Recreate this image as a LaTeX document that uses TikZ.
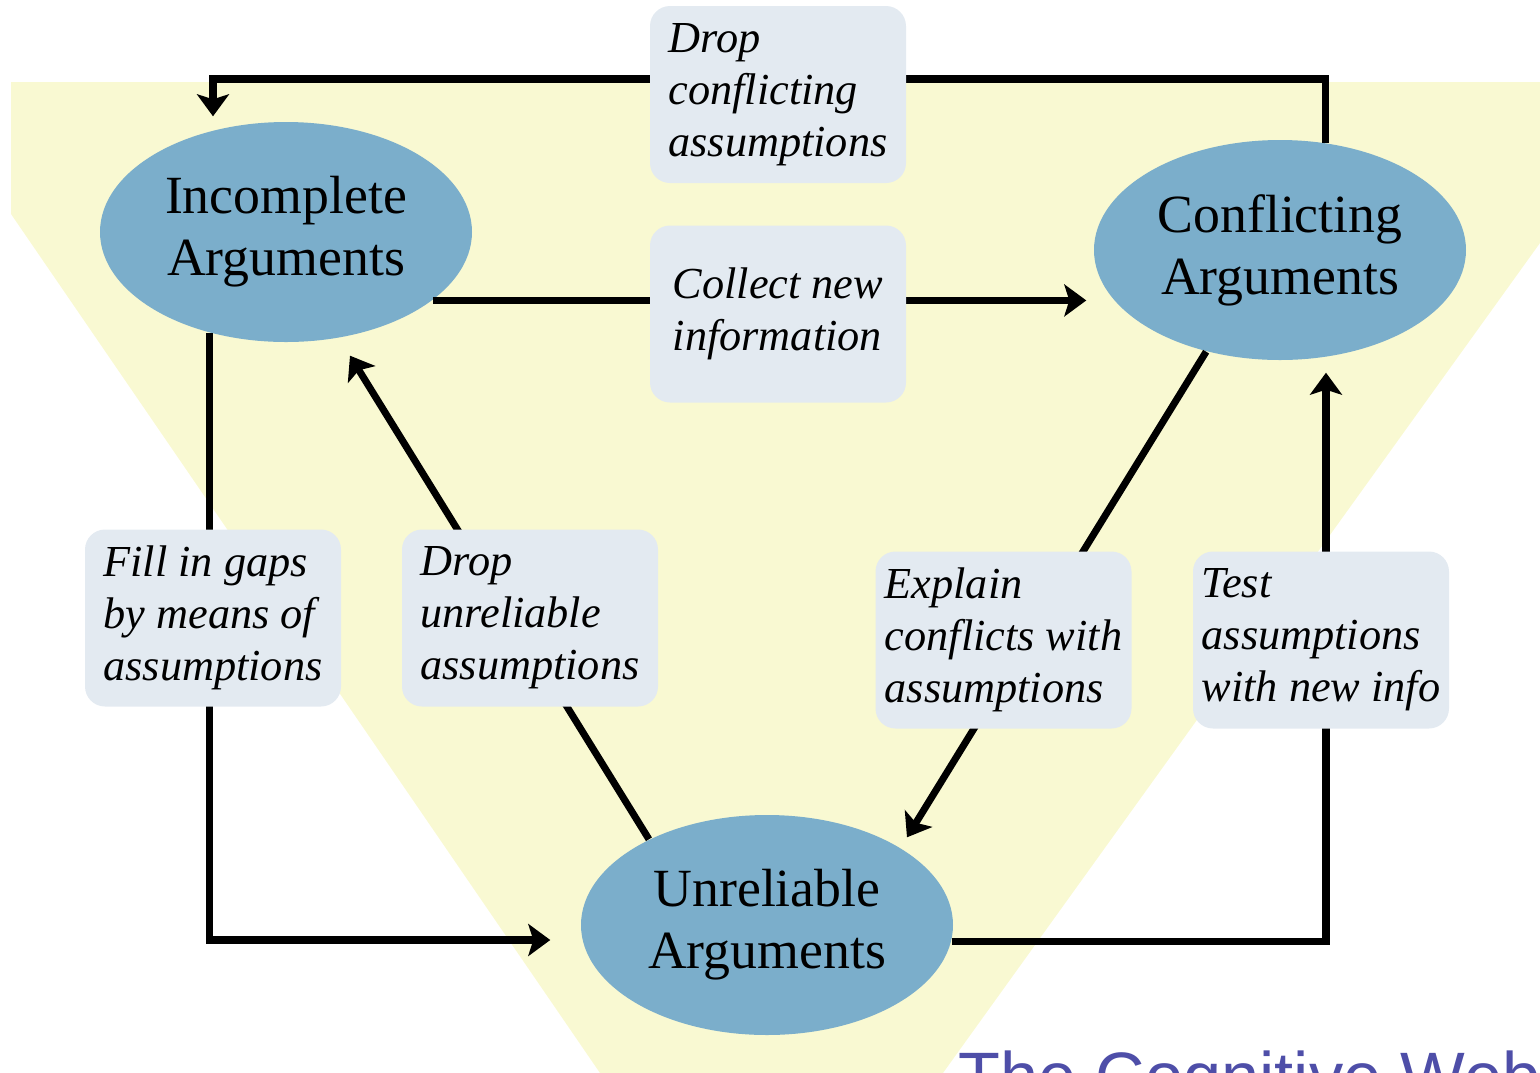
\documentclass[tikz,border=0pt]{standalone}
\usepackage{fontspec}
\setmainfont{Liberation Serif}
\newfontfamily\websans{Liberation Sans}
\usetikzlibrary{shapes.geometric,arrows.meta}

\definecolor{funnel}{RGB}{249,249,210}
\definecolor{argblue}{RGB}{123,174,203}
\definecolor{boxgray}{RGB}{227,234,241}
\definecolor{webblue}{RGB}{78,78,168}

\tikzset{
  argument/.style={ellipse, fill=argblue, minimum width=3.72cm, minimum height=2.2cm,
    inner sep=0pt, align=center, font=\fontsize{15.3}{17.6}\selectfont},
  action/.style={rectangle, rounded corners=0.2cm, fill=boxgray, minimum width=2.56cm,
    minimum height=1.77cm, inner sep=0pt, align=left, font=\fontsize{12.6}{14.8}\selectfont\itshape},
  flow/.style={line width=2pt, -{Stealth[length=0.22cm,width=0.32cm,inset=0.05cm]}}
}

\begin{document}
\begin{tikzpicture}
      \useasboundingbox (0,0) rectangle (15.4,-10.73);
      \fill[funnel] (0.11,-0.82) -- (15.4,-0.82) -- (15.4,-2.43) -- (9.43,-10.73)
                    -- (6.0,-10.73) -- (0.11,-2.14) -- cycle;

      \node[argument] (inc)  at (2.86,-2.32) {Incomplete\\Arguments};
      \node[argument] (conf) at (12.80,-2.50) {Conflicting\\Arguments};
      \node[argument] (unr)  at (7.67,-9.25) {Unreliable\\Arguments};

      \coordinate (loopTL) at (2.13,-0.79);

      \draw[flow, shorten >=0.05cm] (conf.67) |- (loopTL) -- (loopTL |- inc.north);
      \draw[flow, shorten >=0.07cm] (inc.-25) -- (inc.-25 -| conf.west);
      \draw[flow] (inc.233) |- ([xshift=-0.3cm,yshift=-0.15cm]unr.west);
      \draw[flow] (unr.144) -- ([xshift=0.64cm,yshift=-0.13cm]inc.south);
      \draw[flow] (conf.234) -- ([xshift=1.40cm,yshift=-0.23cm]unr.north);
      \draw[flow] (unr.-5) -| ([xshift=0.46cm,yshift=-0.12cm]conf.south);

      \node[action] (dropconf) at (7.78,-0.945) {Drop\\conflicting\\assumptions};
      \node[action] (collect)  at (7.78,-3.14)  {Collect new\\information};
      \node[action] (fill)     at (2.13,-6.18)  {Fill in gaps\\by means of\\assumptions};
      \node[action] (dropunr)  at (5.30,-6.18)  {Drop\\unreliable\\assumptions};
      \node[action] (explain)  at (10.035,-6.40) {Explain\\conflicts with\\assumptions};
      \node[action] (test)     at (13.21,-6.40) {Test\\assumptions\\with new info};

      \begin{scope}
        \clip (0,0) rectangle (15.4,-10.73);
        \node[anchor=base west, inner sep=0pt, text=webblue,
              font=\websans\fontsize{19.5}{23}\selectfont] (webtitle) at (9.58,-11.0) {The Cognitive Web};
      \end{scope}
      %\draw[red] (0,0) rectangle (15.4,-10.73);
\end{tikzpicture}
\end{document}
